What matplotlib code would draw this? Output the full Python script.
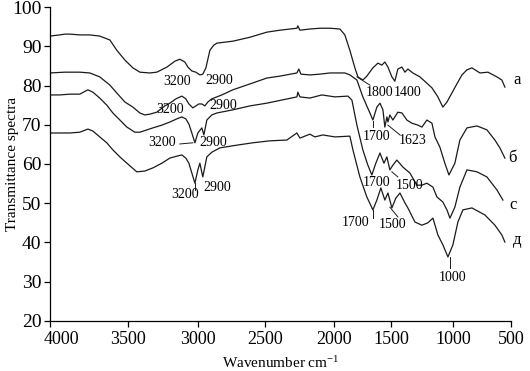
import numpy as np
import matplotlib
matplotlib.use("Agg")
import matplotlib.pyplot as plt
from matplotlib.transforms import ScaledTranslation

plt.rcParams["font.family"] = ["Liberation Serif", "DejaVu Serif"]
plt.rcParams["mathtext.fontset"] = "custom"
plt.rcParams["mathtext.rm"] = "Liberation Serif"
plt.rcParams["mathtext.default"] = "regular"

# spectra (wavenumber, transmittance)
wn_a = [4000, 3936, 3904, 3872, 3808, 3744, 3680, 3615, 3571, 3519, 3464, 3414,
        3343, 3293, 3221, 3164, 3129, 3093, 3071, 3043, 3014, 2985, 2963, 2940,
        2910, 2881, 2858, 2739, 2612, 2486, 2391, 2268, 2261, 2246, 2174, 2101,
        2029, 1947, 1904, 1860, 1816, 1789, 1746, 1711, 1658, 1614, 1579, 1553,
        1526, 1492, 1468, 1444, 1411, 1387, 1363, 1323, 1266, 1210, 1169, 1121,
        1081, 1048, 1008, 966, 922, 879, 836, 767, 698, 621, 578, 552]
tr_a = [92.6, 92.9, 93.1, 93.1, 92.9, 92.9, 92.6, 91.6, 89.0, 86.5, 84.5, 83.4,
        83.2, 83.4, 84.7, 86.2, 86.7, 86.0, 84.7, 83.7, 83.4, 82.7, 82.9, 84.5,
        89.0, 90.3, 90.8, 91.3, 92.3, 93.6, 94.1, 94.6, 95.2, 94.1, 94.4, 94.6,
        94.6, 94.4, 92.9, 89.0, 84.5, 82.2, 81.4, 82.4, 84.5, 85.7, 85.2, 86.0,
        84.7, 82.2, 81.1, 84.2, 84.7, 83.4, 84.2, 83.2, 82.2, 80.6, 79.4, 77.1,
        74.5, 75.8, 78.1, 80.4, 82.7, 84.0, 84.5, 83.2, 83.4, 82.2, 81.4, 79.6]

wn_b = [4000, 3904, 3808, 3744, 3680, 3615, 3571, 3519, 3464, 3414, 3379, 3343,
        3293, 3236, 3200, 3157, 3114, 3086, 3064, 3036, 3014, 2993, 2970, 2948,
        2925, 2896, 2821, 2739, 2612, 2486, 2391, 2268, 2254, 2239, 2174, 2101,
        2029, 1904, 1860, 1798, 1746, 1684, 1658, 1623, 1596, 1570, 1553, 1535,
        1526, 1509, 1484, 1444, 1411, 1371, 1331, 1282, 1250, 1210, 1169, 1145,
        1105, 1065, 1032, 983, 940, 879, 793, 707, 638, 595, 552]
tr_b = [83.2, 83.4, 83.4, 83.2, 82.2, 80.1, 78.1, 75.8, 74.5, 73.0, 72.5, 72.7,
        73.2, 74.8, 75.5, 76.6, 77.3, 76.6, 75.3, 74.3, 74.8, 75.3, 75.3, 74.8,
        75.8, 76.6, 77.6, 78.9, 80.4, 81.9, 82.4, 83.2, 84.2, 82.9, 82.7, 82.9,
        83.2, 83.2, 82.7, 81.4, 77.1, 73.0, 71.2, 74.5, 75.5, 73.8, 69.4, 72.0,
        70.7, 72.5, 71.2, 73.2, 73.0, 71.2, 70.4, 69.9, 69.4, 71.2, 70.4, 66.9,
        64.3, 60.2, 57.2, 60.2, 66.1, 69.2, 69.7, 68.7, 66.1, 64.1, 61.5]

wn_c = [4000, 3936, 3872, 3808, 3756, 3724, 3680, 3635, 3596, 3551, 3506, 3450,
        3414, 3321, 3257, 3200, 3150, 3114, 3086, 3064, 3043, 3021, 3000, 2970,
        2955, 2933, 2896, 2858, 2739, 2612, 2486, 2377, 2268, 2261, 2246, 2174,
        2087, 1991, 1877, 1842, 1798, 1746, 1702, 1667, 1632, 1596, 1561, 1535,
        1509, 1484, 1452, 1403, 1347, 1290, 1250, 1210, 1161, 1129, 1081, 1048,
        1024, 983, 940, 879, 793, 707, 621, 569]
tr_c = [77.6, 77.6, 77.8, 77.8, 78.9, 78.3, 76.8, 75.0, 73.0, 71.2, 69.4, 68.1,
        68.1, 69.2, 69.9, 70.7, 71.5, 72.0, 71.5, 70.2, 67.9, 65.4, 67.9, 69.2,
        67.4, 71.2, 72.5, 73.0, 73.8, 74.8, 75.5, 76.3, 77.1, 78.3, 77.1, 76.8,
        77.6, 77.1, 77.3, 76.3, 69.9, 63.6, 59.7, 57.2, 60.2, 62.8, 60.2, 61.8,
        58.5, 59.7, 61.0, 59.2, 57.7, 54.6, 54.6, 55.1, 54.1, 51.6, 50.3, 48.3,
        46.2, 49.0, 54.1, 58.5, 58.0, 56.7, 53.4, 50.8]

wn_d = [4000, 3936, 3872, 3808, 3756, 3724, 3680, 3635, 3596, 3551, 3506, 3436,
        3379, 3321, 3257, 3200, 3150, 3114, 3086, 3064, 3043, 3021, 3000, 2985,
        2963, 2933, 2896, 2836, 2709, 2590, 2464, 2341, 2268, 2246, 2174, 2138,
        2080, 1991, 1860, 1833, 1772, 1711, 1658, 1623, 1588, 1553, 1526, 1492,
        1460, 1427, 1387, 1363, 1306, 1250, 1202, 1161, 1121, 1081, 1040, 1000,
        957, 914, 836, 724, 638, 578, 552]
tr_d = [67.9, 67.9, 67.9, 68.1, 68.9, 68.4, 66.9, 65.4, 63.6, 61.8, 60.2, 58.0,
        58.2, 59.0, 60.2, 61.5, 62.0, 62.3, 61.5, 60.2, 57.7, 55.1, 58.5, 60.2,
        56.7, 61.8, 63.0, 64.1, 64.8, 65.4, 65.9, 66.1, 67.9, 66.6, 67.6, 66.9,
        67.4, 66.9, 67.1, 63.6, 56.7, 51.6, 48.3, 50.8, 53.9, 50.8, 52.6, 48.8,
        51.3, 52.6, 50.1, 48.8, 45.2, 44.4, 45.0, 46.2, 41.9, 39.4, 36.3, 39.4,
        45.2, 48.3, 48.8, 47.0, 44.4, 41.9, 40.1]

x_ticks = [4000, 3500, 3000, 2500, 2000, 1500, 1000, 500]
y_ticks = [20, 30, 40, 50, 60, 70, 80, 90, 100]

# curve names and peak labels: (text, wavenumber, transmittance)
curve_names = [("а", 448, 81.4), ("б", 483, 61.5), ("с", 483, 49.5), ("д", 448, 40.6)]
peak_labels = [
    ("3200", 3150, 81.1), ("2900", 2843, 81.4), ("1800", 1596, 78.1), ("1400", 1363, 78.3),
    ("3200", 3200, 73.8), ("2900", 2814, 75.0), ("1700", 1623, 66.9), ("1623", 1323, 66.1),
    ("3200", 3257, 65.4), ("2900", 2888, 65.4), ("1700", 1623, 55.4), ("1500", 1347, 54.6),
    ("3200", 3093, 52.1), ("2900", 2858, 54.1), ("1700", 1807, 45.0), ("1500", 1484, 44.7),
    ("1000", 1000, 31.0),
]
leaders = [
    ((1798, 1684), (82.2, 80.1)),
    ((1658, 1658), (71.0, 69.4)),
    ((1526, 1427), (69.9, 67.4)),
    ((3129, 3036), (65.1, 65.4)),
    ((1492, 1444), (58.0, 56.7)),
    ((3021, 3021), (55.1, 53.3)),
    ((1658, 1658), (48.3, 46.2)),
    ((1509, 1444), (49.0, 46.5)),
    ((1024, 1024), (36.3, 33.5)),
]

# the printed wavenumber axis is not evenly spaced; follow its ticks
knot_wn = [0, 500, 1000, 1500, 2000, 2500, 3000, 3500, 4000, 4500]
knot_u = [-519, -461, -403, -341, -284, -215, -148, -78, 0, 78]


def forward(w):
    return np.interp(w, knot_wn, knot_u)


def inverse(u):
    return np.interp(u, knot_u, knot_wn)


fig = plt.figure(figsize=(5.3, 3.71), dpi=100)
ax = fig.add_axes([0.094, 0.135, 0.87, 0.846])
ax.set_xscale("function", functions=(forward, inverse))

line_color = "#1a1a1a"
for wn, tr in [(wn_a, tr_a), (wn_b, tr_b), (wn_c, tr_c), (wn_d, tr_d)]:
    ax.plot(wn, tr, color=line_color, lw=0.9)

for (xs, ys) in leaders:
    ax.plot(xs, ys, color=line_color, lw=0.7)

for text, x, y in peak_labels:
    ax.text(x, y, text, fontsize=10, ha="center", va="center")

for text, x, y in curve_names:
    ax.text(x, y, text, fontsize=12, ha="center", va="center", clip_on=False)

ax.set_xlim(4000, 500)
ax.set_ylim(20, 100)
ax.set_xticks(x_ticks)
ax.set_xticklabels([str(t) for t in x_ticks])
ax.set_yticks(y_ticks)
ax.tick_params(axis="x", labelsize=13, direction="out", length=4, width=0.9)
ax.tick_params(axis="y", labelsize=14, direction="out", length=4, width=0.9, pad=2)
ax.spines["top"].set_visible(False)
ax.spines["right"].set_visible(False)
for s in ("left", "bottom"):
    ax.spines[s].set_linewidth(0.9)

# the first x label sits a little right of the axis corner in the original
first = ax.get_xticklabels()[0]
first.set_transform(first.get_transform() + ScaledTranslation(0.12, 0, fig.dpi_scale_trans))

ax.set_xlabel("Wavenumber cm$^{-1}$", fontsize=11, labelpad=5)
ax.set_ylabel("Transmittance spectra", fontsize=11)
ax.yaxis.set_label_coords(-0.066, 0.5)

fig.savefig("out.png", dpi=100)
